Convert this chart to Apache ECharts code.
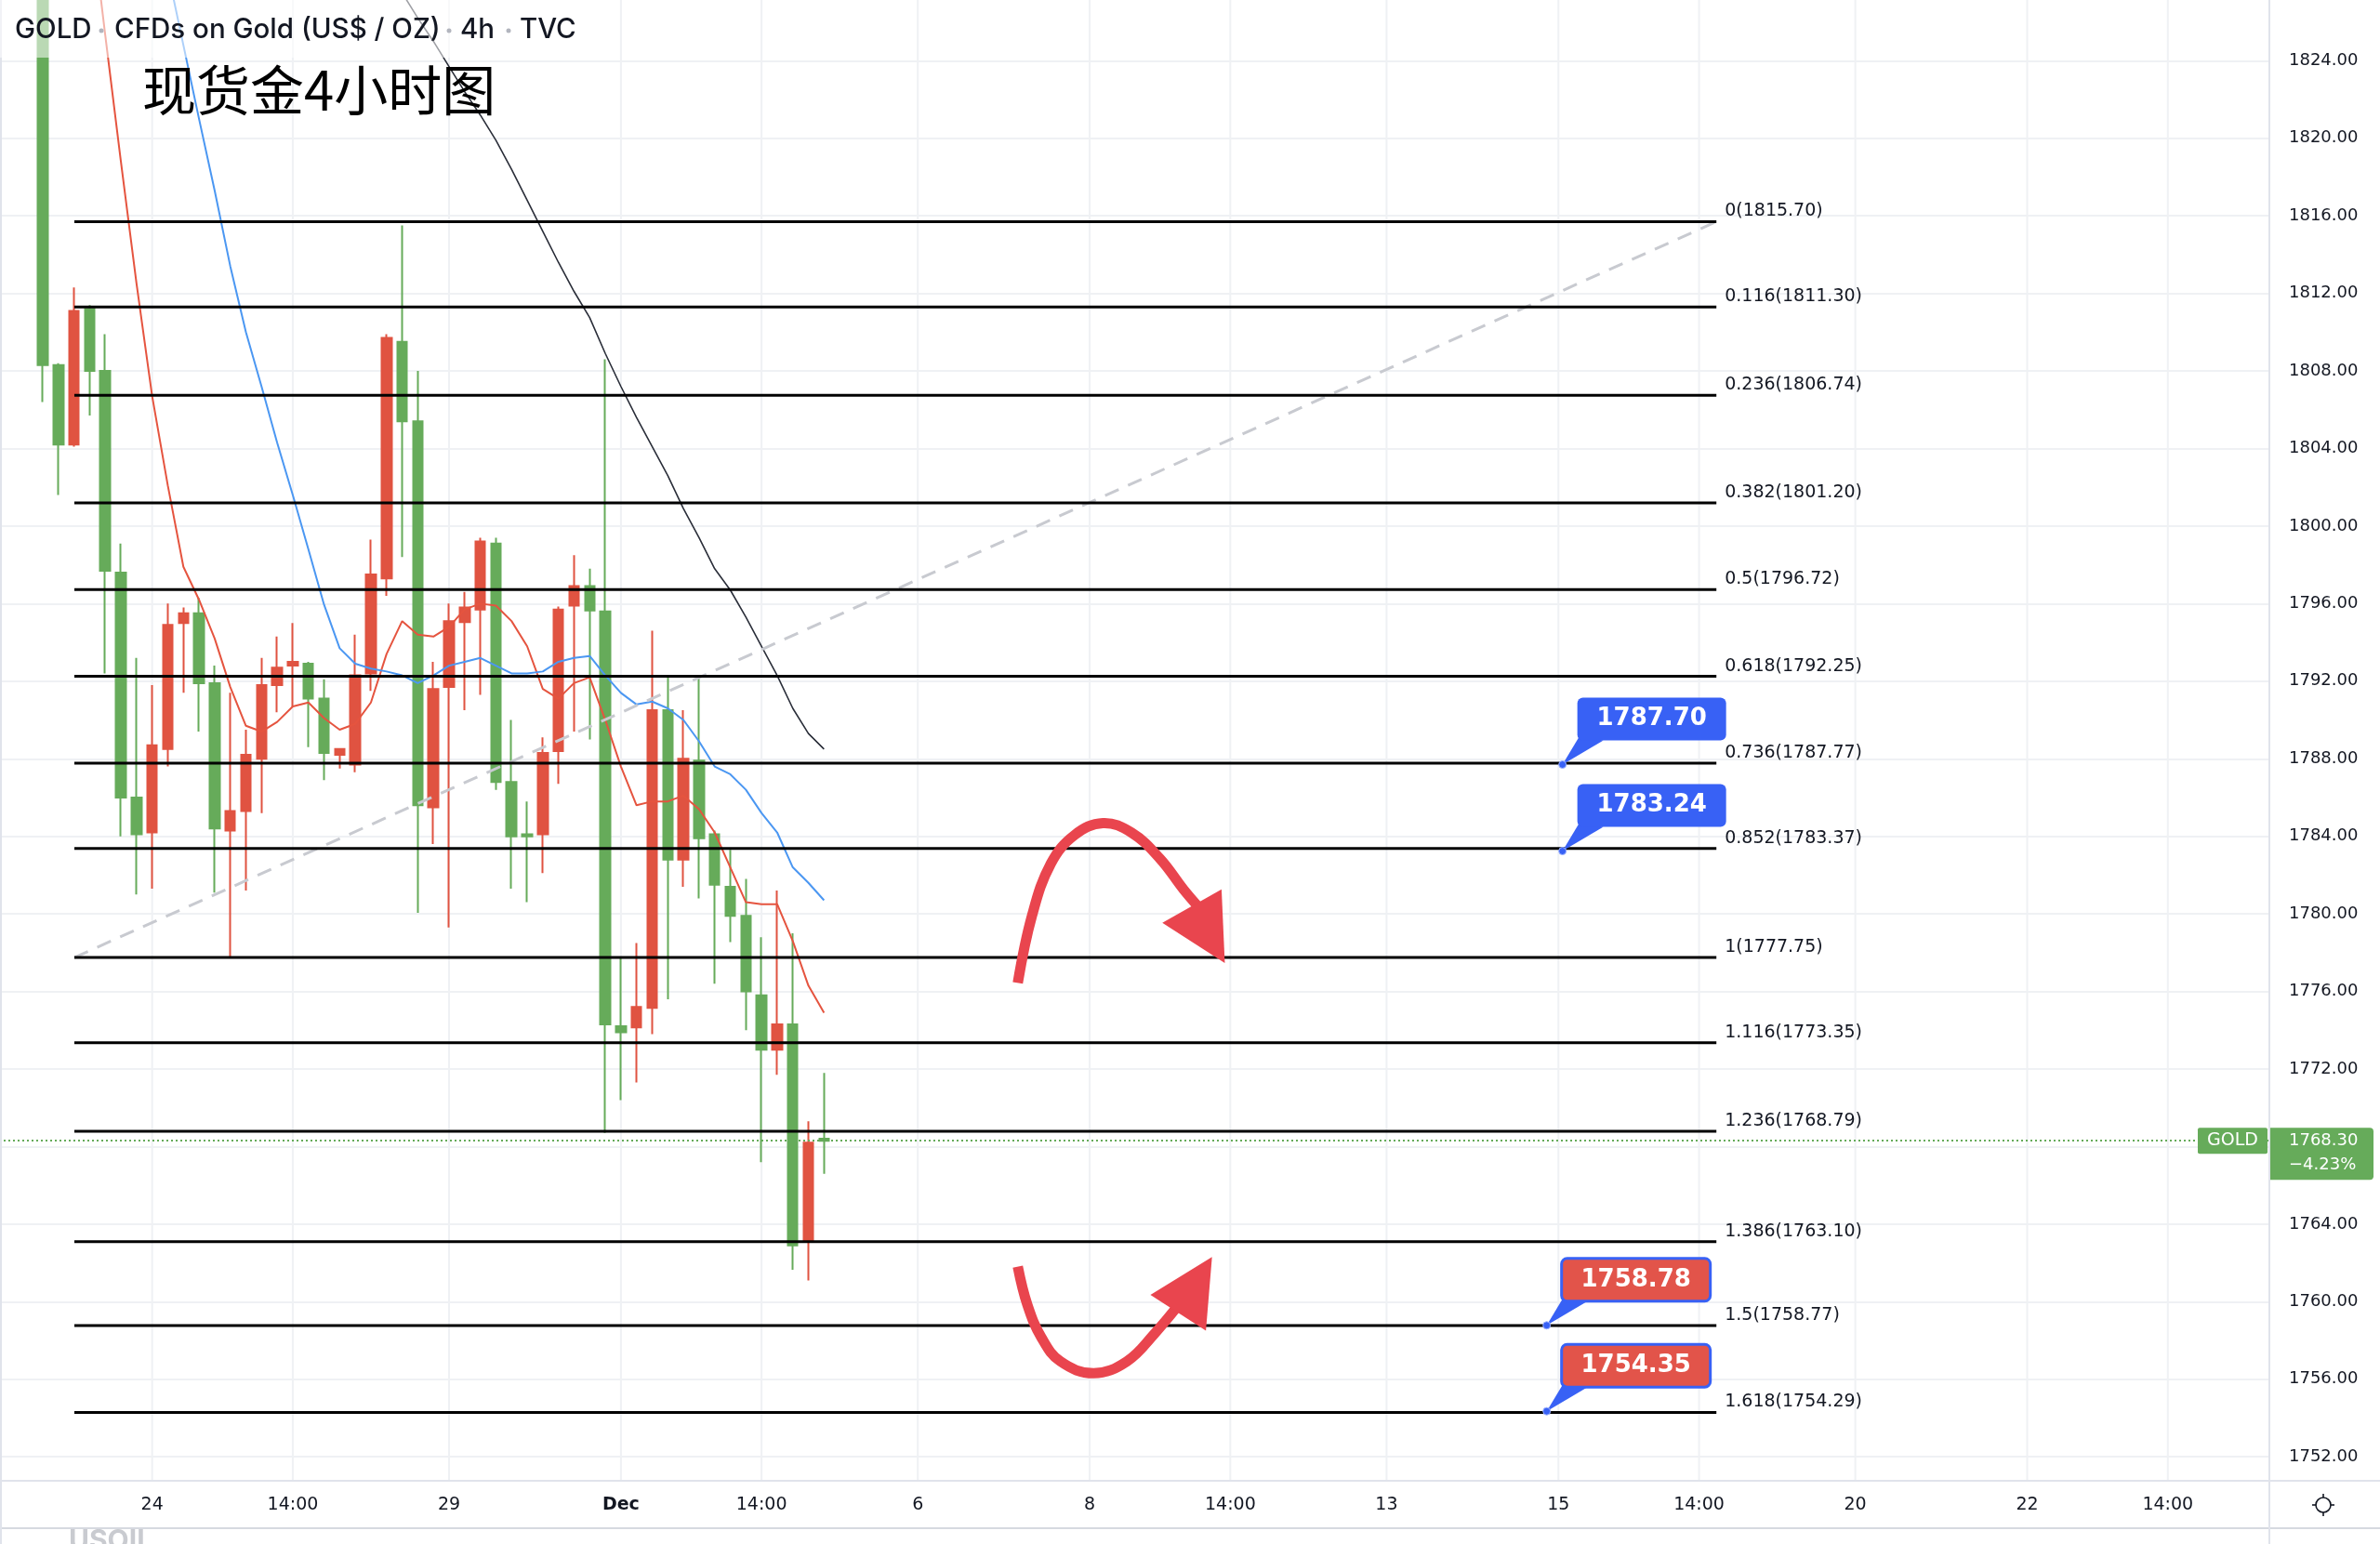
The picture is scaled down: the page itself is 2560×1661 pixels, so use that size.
<!DOCTYPE html>
<html>
<head>
<meta charset="utf-8">
<script src="https://cdn.jsdelivr.net/npm/echarts@6/dist/echarts.min.js"></script>
<style>html,body{margin:0;padding:0;background:#fff}#c{width:2560px;height:1661px}</style>
</head>
<body>
<div id="c"></div>
<script>
// ================= DATA =================
// 4h candles, oldest first
const opens  = [1829.0,1808.3,1804.2,1811.2,1808.0,1797.6,1786.0,1784.2,1788.5,1795.0,1795.5,1791.9,1784.3,1785.3,1788.0,1791.8,1792.8,1792.9,1791.1,1788.2,1787.7,1792.4,1797.3,1809.5,1805.4,1785.5,1791.7,1795.05,1795.7,1799.1,1786.8,1784.1,1784.1,1788.4,1795.9,1796.9,1795.6,1774.2,1774.15,1775.15,1790.5,1782.8,1787.9,1784.1,1781.4,1779.9,1775.8,1773.0,1774.3,1763.1,1768.4];
const closes = [1808.3,1804.2,1811.1,1808.0,1797.7,1786.0,1784.1,1788.7,1794.9,1795.5,1791.9,1784.4,1785.3,1788.2,1791.8,1792.7,1793.0,1791.1,1788.3,1788.5,1792.3,1797.5,1809.7,1805.4,1785.6,1791.6,1795.1,1795.8,1799.2,1786.8,1784.0,1784.0,1788.3,1795.7,1796.9,1795.65,1774.3,1773.9,1775.2,1790.5,1782.8,1788.0,1783.9,1781.5,1779.9,1776.0,1773.0,1774.3,1762.9,1768.2,1768.3];
const lows   = [1806.4,1801.6,1804.1,1805.7,1792.4,1784.0,1781.0,1781.3,1787.6,1791.4,1789.4,1781.1,1777.8,1781.2,1785.2,1790.4,1790.7,1788.6,1786.9,1787.5,1787.3,1791.5,1796.4,1798.4,1780.05,1783.6,1779.3,1790.5,1791.3,1786.4,1781.3,1780.6,1782.1,1786.7,1789.4,1789.0,1768.7,1770.4,1771.3,1773.8,1775.6,1781.4,1780.8,1776.4,1778.55,1774.0,1767.2,1771.7,1761.65,1761.1,1766.6];
const highs  = [1830.0,1808.4,1812.3,1811.4,1809.9,1799.1,1793.2,1791.8,1796.0,1795.8,1796.3,1792.8,1791.4,1789.5,1793.2,1794.3,1795.0,1793.0,1792.1,1788.5,1794.4,1799.3,1809.9,1815.5,1808.0,1793.0,1796.0,1796.6,1799.4,1799.4,1790.0,1785.8,1789.1,1795.85,1798.5,1797.8,1808.6,1777.8,1778.5,1794.6,1792.3,1790.5,1792.3,1784.3,1783.3,1781.8,1778.8,1781.2,1779.0,1769.3,1771.8];

// moving averages drawn on the chart (red / blue / black)
const maRed   = [null,null,null,1832,1825.3,1818.8,1812.5,1806.7,1802.1,1797.9,1796.2,1794.2,1791.7,1789.7,1789.4,1789.9,1790.7,1790.9,1790.1,1789.5,1789.8,1790.9,1793.4,1795.1,1794.4,1794.3,1794.8,1795.7,1796.0,1795.9,1795.1,1793.8,1791.6,1791.1,1791.9,1792.2,1790.0,1787.6,1785.6,1785.8,1785.8,1786.1,1785.4,1784.2,1782.4,1780.6,1780.5,1780.5,1778.6,1776.3,1774.9];
const maBlue  = [null,null,null,null,null,null,null,null,1828.6,1824.8,1821.0,1817.3,1813.4,1810.0,1807.2,1804.3,1801.6,1798.8,1795.95,1793.7,1792.9,1792.65,1792.5,1792.3,1791.9,1792.3,1792.8,1793.0,1793.2,1792.8,1792.4,1792.4,1792.5,1793.0,1793.2,1793.3,1792.3,1791.4,1790.8,1790.95,1790.6,1790.0,1788.9,1787.6,1787.2,1786.4,1785.2,1784.2,1782.4,1781.6,1780.7];
const maBlack = [null,null,null,null,null,null,null,null,null,null,null,null,null,null,null,null,null,null,null,null,null,null,null,1827.5,1826.2,1825.0,1823.7,1822.4,1821.2,1819.9,1818.4,1816.8,1815.2,1813.6,1812.1,1810.75,1808.9,1807.2,1805.6,1804.1,1802.6,1800.9,1799.4,1797.8,1796.7,1795.3,1793.8,1792.3,1790.6,1789.3,1788.5];

// Fibonacci levels
const fibRatios = [0, 0.116, 0.236, 0.382, 0.5, 0.618, 0.736, 0.852, 1, 1.116, 1.236, 1.386, 1.5, 1.618];
const fibPrices = [1815.70, 1811.30, 1806.74, 1801.20, 1796.72, 1792.25, 1787.77, 1783.37, 1777.75, 1773.35, 1768.79, 1763.10, 1758.77, 1754.29];
const fibStartSlot = 4.02, fibEndSlot = 109.11;   // bar slots of the fib anchors

// time axis tick labels (bar slot -> text)
const xTickSlots = [9, 18, 28, 39, 48, 58, 69, 78, 88, 99, 108, 118, 129, 138];
const xTickTexts = ['24', '14:00', '29', 'Dec', '14:00', '6', '8', '14:00', '13', '15', '14:00', '20', '22', '14:00'];

// price ticks
const yTickMin = 1748, yTickMax = 1828, yTickStep = 4;

// price notes (callouts)
const noteSlots  = [99.26, 99.26, 98.25, 98.25];
const notePrices = [1787.70, 1783.24, 1758.78, 1754.35];
const noteKinds  = ['blue', 'blue', 'red', 'red'];

// last price
const lastPrice = 1768.30;
const lastChange = '\u22124.23%';

// hand-drawn arrows in (slot, price)
const arrowShafts = [
  [[64.4,1776.44],[65.31,1779.91],[66.52,1782.60],[68.04,1784.07],[69.85,1784.68],[71.68,1784.19],[73.5,1782.85],[75.01,1781.26],[75.92,1780.40]],
  [[64.4,1761.81],[65.01,1759.85],[65.92,1758.14],[67.13,1756.92],[69.25,1756.31],[71.38,1756.92],[73.19,1758.39],[74.71,1759.85]]
];
const arrowHeads = [
  [[73.65,1779.54],[77.44,1781.26],[77.65,1777.47]],
  [[72.89,1760.35],[76.83,1762.30],[76.44,1758.51]]
];

// ================= LAYOUT / STYLE =================
const SLOTS = 145;
const LEAD = 2;                 // empty slots before first candle
const PLOT_L = 4, PLOT_W = 2437, PLOT_H = 1592;
const PX = 20.86;               // px per US$
const Y_MAX = 1827.13;
const Y_MIN = Y_MAX - PLOT_H / PX;
const GREEN = '#66ab5a', RED = '#e05341', BLUE = '#3861f5', ARROW = '#e9454e';
const TXT = '#131722', GRIDC = '#eff1f4';
const AXFONT = '"DejaVu Sans", Verdana, sans-serif';
const HFONT = '500 29.5px Inter, "Noto Sans", sans-serif';

const pad = n => Array(n).fill(null);
const candleData = ['-', '-'].concat(opens.map((o, i) => [o, closes[i], lows[i], highs[i]]));
const cats = Array(SLOTS).fill('');
xTickSlots.forEach((s, i) => { cats[s] = xTickTexts[i]; });

const maSeries = (name, arr, color, width) => ({
  name, type: 'line', xAxisIndex: 0, yAxisIndex: 0, data: pad(LEAD).concat(arr),
  symbol: 'none', showSymbol: false, connectNulls: false, silent: true, z: 4,
  lineStyle: { color, width }, clip: true
});

const option = {
  animation: false,
  backgroundColor: '#ffffff',
  textStyle: { fontFamily: AXFONT },
  grid: [
    { left: PLOT_L, top: 0, width: PLOT_W, height: PLOT_H, containLabel: false, outerBoundsMode: 'none' },
    { left: 0, top: (Y_MAX - yTickMax) * PX, width: PLOT_L + PLOT_W, height: (yTickMax - yTickMin) * PX, containLabel: false, outerBoundsMode: 'none' }
  ],
  xAxis: [
    { type: 'category', gridIndex: 0, data: cats, boundaryGap: true, z: 10,
      axisLine: { show: false }, axisTick: { show: false }, splitLine: { show: false },
      axisLabel: { interval: 0, margin: 18, color: TXT, fontSize: 19, fontFamily: AXFONT,
        formatter: v => v === 'Dec' ? '{b|Dec}' : v,
        rich: { b: { fontWeight: 'bold', fontSize: 19, color: TXT, fontFamily: AXFONT } } } },
    { type: 'value', gridIndex: 0, min: -0.5, max: SLOTS - 0.5, show: false },
    { type: 'value', gridIndex: 1, min: 0, max: 1, show: false }
  ],
  yAxis: [
    { type: 'value', gridIndex: 0, min: Y_MIN, max: Y_MAX, show: false, scale: true },
    { type: 'value', gridIndex: 1, min: yTickMin, max: yTickMax, interval: yTickStep, position: 'right',
      axisLine: { show: false }, axisTick: { show: false },
      axisLabel: { formatter: v => v.toFixed(2), margin: 21, color: TXT, fontSize: 18, fontFamily: AXFONT,
        showMinLabel: false, showMaxLabel: false },
      splitLine: { show: true, showMinLine: false, showMaxLine: false, lineStyle: { color: GRIDC, width: 2 } } }
  ],
  series: [
    // vertical grid lines at time ticks
    { type: 'custom', xAxisIndex: 1, yAxisIndex: 0, z: 1, silent: true,
      data: xTickSlots.map(s => [s, Y_MIN]),
      renderItem: (params, api) => {
        const x = api.coord([api.value(0), Y_MIN])[0];
        const cs = params.coordSys;
        return { type: 'line', shape: { x1: x, y1: cs.y, x2: x, y2: cs.y + cs.height },
          style: { stroke: GRIDC, lineWidth: 2 } };
      } },
    { name: 'GOLD', type: 'candlestick', xAxisIndex: 0, yAxisIndex: 0, data: candleData, z: 3,
      barWidth: 11, silent: true,
      itemStyle: { color: RED, color0: GREEN, borderColor: RED, borderColor0: GREEN, borderWidth: 2 },
      markLine: { silent: true, symbol: ['none', 'none'], label: { show: false },
        lineStyle: { color: GREEN, width: 2, type: [2, 3] },
        data: [{ yAxis: lastPrice }] } },
    maSeries('MA fast', maRed, '#e5543f', 2),
    maSeries('MA mid', maBlue, '#4b97f2', 2),
    maSeries('MA slow', maBlack, '#2a2e39', 1.6),
    // fib trend line
    { type: 'line', xAxisIndex: 1, yAxisIndex: 0, z: 5, silent: true, symbol: 'none',
      data: [[fibStartSlot, fibPrices[8]], [fibEndSlot, fibPrices[0]]],
      lineStyle: { color: '#c8cad0', width: 3, type: [16, 11] } },
    // fib levels
    { type: 'custom', xAxisIndex: 1, yAxisIndex: 0, z: 6, silent: true,
      data: fibPrices.map((p, i) => [i, p]),
      renderItem: (params, api) => {
        const i = params.dataIndex;
        const s = api.coord([fibStartSlot, fibPrices[i]]);
        const e = api.coord([fibEndSlot, fibPrices[i]]);
        return { type: 'group', children: [
          { type: 'line', shape: { x1: s[0], y1: s[1], x2: e[0], y2: e[1] }, style: { stroke: '#000', lineWidth: 3 } },
          { type: 'text', style: { x: e[0] + 9, y: s[1] - 11, text: String(fibRatios[i]) + '(' + fibPrices[i].toFixed(2) + ')',
            fill: TXT, font: '19px ' + AXFONT, align: 'left', verticalAlign: 'middle' } }
        ] };
      } },
    // arrows
    { type: 'custom', xAxisIndex: 1, yAxisIndex: 0, z: 8, silent: true,
      data: arrowShafts.map((a, i) => [i, a[0][1]]),
      renderItem: (params, api) => {
        const i = params.dataIndex;
        const shaft = arrowShafts[i].map(p => api.coord(p));
        const head = arrowHeads[i].map(p => api.coord(p));
        return { type: 'group', children: [
          { type: 'polyline', shape: { points: shaft, smooth: 0.4 }, style: { stroke: ARROW, lineWidth: 11, fill: null, lineCap: 'butt', lineJoin: 'round' } },
          { type: 'polygon', shape: { points: head }, style: { fill: ARROW } }
        ] };
      } },
    // price notes
    { type: 'custom', xAxisIndex: 1, yAxisIndex: 0, z: 9, silent: true,
      data: notePrices.map((p, i) => [noteSlots[i], p]),
      renderItem: (params, api) => {
        const i = params.dataIndex;
        const c = api.coord([noteSlots[i], notePrices[i]]);
        const ax = c[0], ay = c[1];
        const red = noteKinds[i] === 'red';
        return { type: 'group', children: [
          { type: 'polygon', shape: { points: [[ax, ay], [ax + 18, ay - 30], [ax + 44, ay - 26]] }, style: { fill: BLUE } },
          { type: 'rect', shape: { x: ax + 16, y: ay - 72, width: 160, height: 46, r: 6 },
            style: red ? { fill: '#e2544a', stroke: BLUE, lineWidth: 3 } : { fill: BLUE } },
          { type: 'text', style: { x: ax + 96, y: ay - 49, text: notePrices[i].toFixed(2), fill: '#fff',
            font: 'bold 26px ' + AXFONT, align: 'center', verticalAlign: 'middle' } },
          { type: 'circle', shape: { cx: ax, cy: ay, r: 4 }, style: { fill: BLUE, stroke: '#9fb3ff', lineWidth: 1 } }
        ] };
      } },
    // last price tag on the axis
    { type: 'custom', xAxisIndex: 1, yAxisIndex: 0, z: 12, silent: true, clip: false,
      data: [[0, lastPrice]],
      renderItem: (params, api) => {
        const y = api.coord([0, lastPrice])[1];
        const x0 = params.coordSys.x + params.coordSys.width;
        return { type: 'group', children: [
          { type: 'rect', shape: { x: x0 - 77, y: y - 14, width: 75, height: 28, r: 2 }, style: { fill: GREEN } },
          { type: 'text', style: { x: x0 - 39.5, y: y, text: 'GOLD', fill: '#fff', font: '19px ' + AXFONT, align: 'center', verticalAlign: 'middle' } },
          { type: 'rect', shape: { x: x0, y: y - 14, width: 112, height: 56, r: [0, 4, 4, 0] }, style: { fill: GREEN } },
          { type: 'text', style: { x: x0 + 21, y: y, text: lastPrice.toFixed(2), fill: '#fff', font: '18px ' + AXFONT, align: 'left', verticalAlign: 'middle' } },
          { type: 'text', style: { x: x0 + 21, y: y + 26, text: lastChange, fill: '#fff', font: '18px ' + AXFONT, align: 'left', verticalAlign: 'middle' } }
        ] };
      } }
  ],
  graphic: [
    { type: 'rect', z: 100, silent: true, shape: { x: 0, y: 0, width: 640, height: 62 }, style: { fill: 'rgba(255,255,255,0.55)' } },
    { type: 'text', z: 101, silent: true, x: 16, y: 32, style: { text: 'GOLD', font: HFONT, fill: TXT, verticalAlign: 'middle' } },
    { type: 'circle', z: 101, silent: true, shape: { cx: 109, cy: 33, r: 2.5 }, style: { fill: '#b2b5be' } },
    { type: 'text', z: 101, silent: true, x: 123, y: 32, style: { text: 'CFDs on Gold (US$ / OZ)', font: HFONT, fill: TXT, verticalAlign: 'middle' } },
    { type: 'circle', z: 101, silent: true, shape: { cx: 483, cy: 33, r: 2.5 }, style: { fill: '#b2b5be' } },
    { type: 'text', z: 101, silent: true, x: 495, y: 32, style: { text: '4h', font: HFONT, fill: TXT, verticalAlign: 'middle' } },
    { type: 'circle', z: 101, silent: true, shape: { cx: 547, cy: 33, r: 2.5 }, style: { fill: '#b2b5be' } },
    { type: 'text', z: 101, silent: true, x: 559, y: 32, style: { text: 'TVC', font: HFONT, fill: TXT, verticalAlign: 'middle' } },
    { type: 'text', z: 101, silent: true, x: 153, y: 97, style: { text: '现货金4小时图', font: '58px "Noto Sans CJK SC", sans-serif', fill: '#000', verticalAlign: 'middle' } },
    // axis frame lines
    { type: 'line', z: 20, silent: true, shape: { x1: 0, y1: 1593, x2: 2560, y2: 1593 }, style: { stroke: '#e0e3eb', lineWidth: 2 } },
    { type: 'line', z: 20, silent: true, shape: { x1: 0, y1: 1644, x2: 2560, y2: 1644 }, style: { stroke: '#d6d9e0', lineWidth: 2 } },
    { type: 'line', z: 20, silent: true, shape: { x1: 2441, y1: 0, x2: 2441, y2: 1661 }, style: { stroke: '#e0e3eb', lineWidth: 2 } },
    { type: 'line', z: 20, silent: true, shape: { x1: 1, y1: 0, x2: 1, y2: 1661 }, style: { stroke: '#e0e3eb', lineWidth: 2 } },
    // settings icon
    { type: 'circle', z: 20, silent: true, shape: { cx: 2499, cy: 1619, r: 8 }, style: { fill: 'none', stroke: TXT, lineWidth: 1.6 } },
    { type: 'line', z: 20, silent: true, shape: { x1: 2499, y1: 1607, x2: 2499, y2: 1611 }, style: { stroke: TXT, lineWidth: 1.6 } },
    { type: 'line', z: 20, silent: true, shape: { x1: 2499, y1: 1627, x2: 2499, y2: 1631 }, style: { stroke: TXT, lineWidth: 1.6 } },
    { type: 'line', z: 20, silent: true, shape: { x1: 2487, y1: 1619, x2: 2491, y2: 1619 }, style: { stroke: TXT, lineWidth: 1.6 } },
    { type: 'line', z: 20, silent: true, shape: { x1: 2507, y1: 1619, x2: 2511, y2: 1619 }, style: { stroke: TXT, lineWidth: 1.6 } },
    { type: 'text', z: 20, silent: true, x: 74, y: 1643, style: { text: 'USOIL', font: 'bold 30px Inter, "Noto Sans", sans-serif', fill: '#c9cbd0', verticalAlign: 'top' } }
  ]
};

const chart = echarts.init(document.getElementById('c'), null, { renderer: 'canvas', width: 2560, height: 1661 });
chart.setOption(option);
</script>
</body>
</html>
